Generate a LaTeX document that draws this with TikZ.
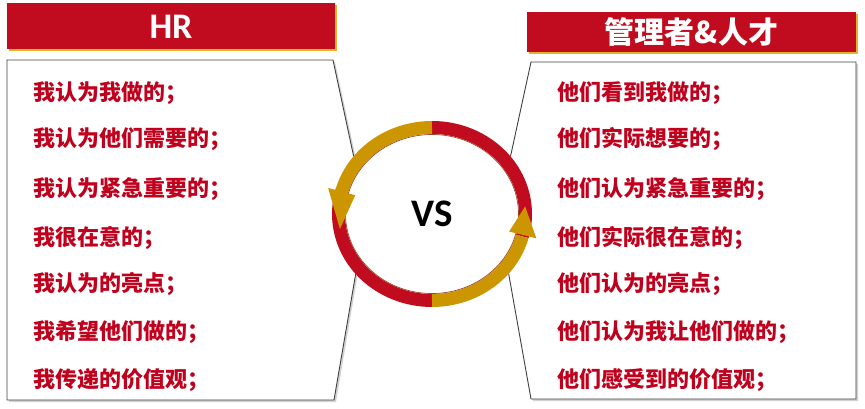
\documentclass[tikz,border=0pt]{standalone}
\usepackage{fontspec}
\setmainfont{Carlito}
\newfontfamily\cjk{Noto Sans CJK SC}
\usetikzlibrary{calc,shadows}

\definecolor{hrred}{RGB}{192,12,30}
\definecolor{hrgold}{RGB}{204,150,0}
\definecolor{barshadow}{RGB}{226,180,40}
\definecolor{textred}{RGB}{192,0,28}
\definecolor{boxline}{RGB}{64,64,64}
\definecolor{ringedge}{RGB}{160,70,40}

\begin{document}
\begin{tikzpicture}[x=1pt,y=1pt,
    titlebar/.style={fill=hrred,text=white,inner sep=0pt,
        drop shadow={shadow xshift=2pt,shadow yshift=-2pt,fill=barshadow,opacity=1}},
    item/.style={anchor=west,inner sep=0pt,text=textred,
        font=\cjk\bfseries\fontsize{22}{26}\selectfont},
    panel/.style={draw=boxline,line width=0.9pt,fill=white},
    ring/.style={line width=13pt}]

    \useasboundingbox (0,0) rectangle (865,408);

    % Panels
    \fill[gray!35] (9,346) -- (335,346) -- (368,194) -- (336,6) -- (9,6) -- cycle;
    \draw[panel] (7,348) -- (333,348) -- (366,194) -- (334,8) -- (7,8) -- cycle;
    \fill[gray!35] (533,344) -- (858,344) -- (858,7) -- (533,7) -- (500,194) -- cycle;
    \draw[panel] (531,346) -- (856,346) -- (856,9) -- (531,9) -- (498,194) -- cycle;

    % Title bars
    \node[titlebar,minimum width=328pt,minimum height=46pt,
        font=\bfseries\fontsize{36}{36}\selectfont] (hr) at (171,381.5) {HR};
    \node[titlebar,minimum width=329pt,minimum height=40pt,
        font=\cjk\bfseries\fontsize{30}{30}\selectfont] (mgr) at (691.5,376) {管理者\&人才};

    % Ring
    \coordinate (c) at (432,194);
    \fill[white] (c) ellipse [x radius=100, y radius=93];
    \draw[ring,hrred] ($(c)+(90:93.5 and 86.5)$)
        arc[start angle=90,end angle=-15,x radius=93.5,y radius=86.5];
    \draw[ring,hrred] ($(c)+(164:93.5 and 86.5)$)
        arc[start angle=164,end angle=270,x radius=93.5,y radius=86.5];
    \draw[ring,hrgold] ($(c)+(90:93.5 and 86.5)$)
        arc[start angle=90,end angle=166,x radius=93.5,y radius=86.5];
    \draw[ring,hrgold] ($(c)+(270:93.5 and 86.5)$)
        arc[start angle=270,end angle=345,x radius=93.5,y radius=86.5];
    \draw[ringedge,line width=0.7pt] (c) ellipse [x radius=86.5, y radius=79.5];
    % Arrow heads
    \fill[hrgold] ($(c)+(165:107.5 and 100.5)$) -- ($(c)+(165:79.5 and 72.5)$)
        -- ($(c)+(190:93.5 and 86.5)$) -- cycle;
    \fill[hrgold] ($(c)+(-14:107.5 and 100.5)$) -- ($(c)+(-14:79.5 and 72.5)$)
        -- ($(c)+(5:93.5 and 86.5)$) -- cycle;
    \node[font=\bfseries\fontsize{39}{39}\selectfont] (vs) at (c) {VS};

    % HR side
    \node[item] (hr1) at (33,315) {我认为我做的；};
    \node[item] (hr2) at (33,269) {我认为他们需要的；};
    \node[item] (hr3) at (33,219) {我认为紧急重要的；};
    \node[item] (hr4) at (33,170) {我很在意的；};
    \node[item] (hr5) at (33,124) {我认为的亮点；};
    \node[item] (hr6) at (33,76) {我希望他们做的；};
    \node[item] (hr7) at (33,28) {我传递的价值观；};

    % Manager side
    \node[item] (mg1) at (557,315) {他们看到我做的；};
    \node[item] (mg2) at (557,269) {他们实际想要的；};
    \node[item] (mg3) at (557,219) {他们认为紧急重要的；};
    \node[item] (mg4) at (557,170) {他们实际很在意的；};
    \node[item] (mg5) at (557,124) {他们认为的亮点；};
    \node[item] (mg6) at (557,76) {他们认为我让他们做的；};
    \node[item] (mg7) at (557,28) {他们感受到的价值观；};
\end{tikzpicture}
\end{document}
